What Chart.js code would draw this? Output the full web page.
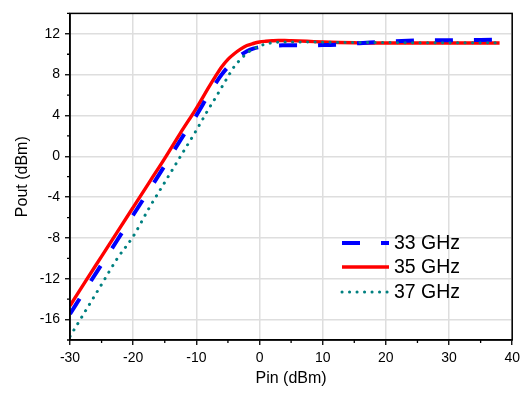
<!DOCTYPE html>
<html>
<head>
<meta charset="utf-8">
<script src="https://cdn.jsdelivr.net/npm/chart.js@4.4.1/dist/chart.umd.min.js"></script>
<style>
  html, body { margin: 0; padding: 0; background: #fff; }
  #wrap { width: 525px; height: 396px; position: relative; }
</style>
</head>
<body>
<div id="wrap"><canvas id="c" width="525" height="396"></canvas></div>
<script>
// ---- data ----
const pin = [-30,-27.5,-25,-22.5,-20,-17.5,-15,-12.5,-10,-8,-7,-6,-5,-4,-3,-2,-1,0,1,2,3,4,5,7.5,10,12.5,15,17.5,20,22.5,25,27.5,30,32.5,35,38];
const pout33 = [-15.45,-13.0,-10.6,-8.2,-5.75,-3.35,-0.9,1.6,4.0,6.1,7.1,8.0,8.75,9.4,9.9,10.3,10.55,10.7,10.78,10.83,10.86,10.87,10.88,10.88,10.9,10.95,11.05,11.15,11.22,11.3,11.35,11.36,11.37,11.38,11.4,11.42];
const pout35 = [-14.65,-12.2,-9.8,-7.4,-5.0,-2.6,-0.2,2.3,4.7,6.8,7.8,8.75,9.5,10.05,10.5,10.85,11.05,11.2,11.27,11.32,11.35,11.35,11.33,11.27,11.2,11.15,11.12,11.1,11.1,11.1,11.1,11.1,11.1,11.1,11.1,11.1];
const pout37 = [-17.65,-15.1,-12.55,-10.0,-7.85,-5.1,-2.55,0.0,2.55,4.7,5.7,6.75,7.8,8.8,9.5,10.1,10.5,10.8,11.0,11.12,11.18,11.2,11.2,11.2,11.18,11.16,11.15,11.14,11.14,11.13,11.13,11.13,11.13,11.13,11.13,11.13];
const seriesLabels = ['33 GHz', '35 GHz', '37 GHz'];
const xTitle = 'Pin (dBm)';
const yTitle = 'Pout (dBm)';
const xMin = -30, xMax = 40, xStep = 5, xLabelStep = 10;
const yMin = -18, yMax = 14, yStep = 2, yLabelStep = 4;

const FONT = "'Liberation Sans', Arial, sans-serif";
const toXY = ys => pin.map((x, i) => ({ x: x, y: ys[i] }));

const framePlugin = {
  id: 'frame',
  afterDraw(chart) {
    const { ctx, chartArea: a } = chart;
    ctx.save();
    ctx.strokeStyle = '#000';
    ctx.lineWidth = 1.3;
    // minor ticks (shorter), drawn through the scales
    const xs = chart.scales.x, ys = chart.scales.y;
    ctx.beginPath();
    for (let v = xMin; v <= xMax; v += xStep) {
      if (v % xLabelStep !== 0) {
        const px = xs.getPixelForValue(v);
        ctx.moveTo(px, a.bottom);
        ctx.lineTo(px, a.bottom + 3);
      }
    }
    for (let v = yMin; v <= yMax; v += yStep) {
      if (v % yLabelStep !== 0) {
        const py = ys.getPixelForValue(v);
        ctx.moveTo(a.left, py);
        ctx.lineTo(a.left - 3, py);
      }
    }
    ctx.stroke();
    ctx.lineWidth = 1.5;
    ctx.strokeRect(a.left, a.top, a.right - a.left, a.bottom - a.top);
    ctx.restore();
  }
};

const legendPlugin = {
  id: 'customLegend',
  afterDraw(chart) {
    const { ctx } = chart;
    const x0 = 342, x1 = 389, tx = 394;
    const ys = [243, 267, 292];
    ctx.save();
    chart.data.datasets.forEach((ds, i) => {
      const y = ys[i];
      ctx.beginPath();
      ctx.strokeStyle = ds.borderColor;
      ctx.lineWidth = ds.borderWidth;
      ctx.setLineDash(ds.borderDash || []);
      ctx.lineCap = ds.borderCapStyle || 'butt';
      ctx.moveTo(x0, y);
      ctx.lineTo(x1, y);
      ctx.stroke();
      ctx.setLineDash([]);
      ctx.fillStyle = '#000';
      ctx.font = '19.5px ' + FONT;
      ctx.textBaseline = 'middle';
      ctx.textAlign = 'left';
      ctx.fillText(ds.label, tx, y + 1);
    });
    ctx.restore();
  }
};

const majorOnly = (step) => (c => (c.tick && c.tick.value % step === 0 ? '#000' : 'rgba(0,0,0,0)'));

new Chart(document.getElementById('c'), {
  type: 'line',
  data: {
    datasets: [
      { label: seriesLabels[0], data: toXY(pout33), borderColor: '#0000ff', borderWidth: 4, borderDash: [18, 21], borderCapStyle: 'butt', pointRadius: 0, cubicInterpolationMode: 'monotone', order: 2 },
      { label: seriesLabels[1], data: toXY(pout35), borderColor: '#ff0000', borderWidth: 3.4, pointRadius: 0, cubicInterpolationMode: 'monotone', order: 3 },
      { label: seriesLabels[2], data: toXY(pout37), borderColor: '#008080', borderWidth: 3, borderDash: [0.1, 7.4], borderCapStyle: 'round', pointRadius: 0, cubicInterpolationMode: 'monotone', order: 1 }
    ]
  },
  options: {
    responsive: false,
    animation: false,
    layout: { padding: { top: 11, right: 12, left: 0, bottom: 0 } },
    plugins: { legend: { display: false }, tooltip: { enabled: false } },
    scales: {
      x: {
        type: 'linear', min: xMin, max: xMax,
        afterFit(s) { s.height = 56; },
        ticks: {
          stepSize: xStep, padding: 5, color: '#000', maxRotation: 0, autoSkip: false,
          font: { family: FONT, size: 14 },
          callback: v => (v % xLabelStep === 0 ? String(v) : '')
        },
        grid: {
          color: c => (c.tick && c.tick.value % xLabelStep === 0 ? '#dedede' : 'rgba(0,0,0,0)'),
          lineWidth: 1.5, tickColor: majorOnly(xLabelStep), tickLength: 5, tickWidth: 1.3
        },
        border: { display: true, color: '#000', width: 1.5 },
        title: { display: true, text: xTitle, color: '#000', font: { family: FONT, size: 16 }, padding: { top: 0, bottom: 8 } }
      },
      y: {
        type: 'linear', min: yMin, max: yMax,
        afterFit(s) { s.width = 70; },
        ticks: {
          stepSize: yStep, padding: 5, color: '#000', autoSkip: false,
          font: { family: FONT, size: 14 },
          callback: v => (v % yLabelStep === 0 ? String(v) : '')
        },
        grid: {
          color: c => (c.tick && c.tick.value % yLabelStep === 0 ? '#dedede' : 'rgba(0,0,0,0)'),
          lineWidth: 1.5, tickColor: majorOnly(yLabelStep), tickLength: 5, tickWidth: 1.3
        },
        border: { display: true, color: '#000', width: 1.5 },
        title: { display: true, text: yTitle, color: '#000', font: { family: FONT, size: 16 }, padding: { top: 13, bottom: 0 } }
      }
    }
  },
  plugins: [framePlugin, legendPlugin]
});
</script>
</body>
</html>
